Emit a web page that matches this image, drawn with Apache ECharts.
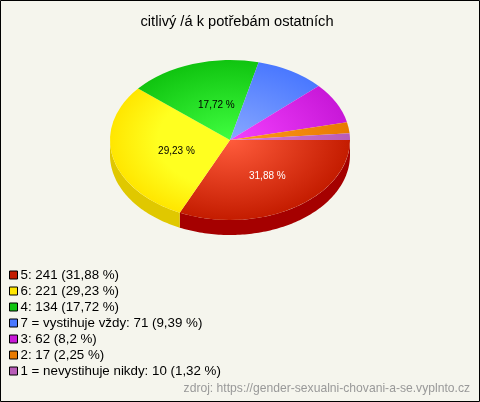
<!DOCTYPE html>
<html><head><meta charset="utf-8">
<style>html,body{margin:0;padding:0;background:#f5f5ed}#c{width:480px;height:402px}</style>
<script src="https://cdn.jsdelivr.net/npm/echarts@6/dist/echarts.min.js"></script>
</head><body><div id="c"></div>
<script>
const categories = ['5','6','4','7 = vystihuje vždy','3','2','1 = nevystihuje nikdy'];
const counts = [241,221,134,71,62,17,10];
const percents = ['31,88','29,23','17,72','9,39','8,2','2,25','1,32'];
const colors = ['#c41c00','#ffe600','#10c410','#4a78ff','#c818d8','#e87a00','#b85cb8'];
const lightColors = ['#ff5c3c','#ffff20','#40ff40','#88a8ff','#f440ff','#ff9a20','#d878d8'];
const wallColors = ['#a50000','#e0c800','#0a8a0a','#3050b0','#901090','#a05000','#804080'];
const labelColors = ['#fff','#000','#000'];

const CX=230, CY=140, RX=120, RY=80, DEPTH=15;
const total = counts.reduce((a,b)=>a+b,0);
let acc=0;
const starts = counts.map(v=>{const s=acc; acc+=v; return s;});

function renderSlice(i){
  return function(params, api){
    const v=api.value(0), s=api.value(1);
    const a0=s/total*Math.PI*2, a1=(s+v)/total*Math.PI*2;
    const children=[];
    const w0=a0, w1=Math.min(a1,Math.PI);
    if(w1>w0){
      const top=[],bot=[];
      const n=Math.max(2,Math.ceil((w1-w0)/0.02));
      for(let k=0;k<=n;k++){
        const t=w0+(w1-w0)*k/n;
        const x=CX+RX*Math.cos(t), y=CY+RY*Math.sin(t);
        top.push([x,y]); bot.unshift([x,y+DEPTH]);
      }
      children.push({type:'polygon',shape:{points:top.concat(bot)},style:{fill:wallColors[i]},silent:true});
    }
    const stops=i===1
      ?[{offset:0,color:lightColors[i]},{offset:0.6,color:lightColors[i]},{offset:1,color:colors[i]}]
      :[{offset:0,color:lightColors[i]},{offset:1,color:colors[i]}];
    children.push({type:'sector',x:CX,y:CY,scaleY:RY/RX,silent:true,
      shape:{cx:0,cy:0,r:RX,r0:0,startAngle:a0,endAngle:a1,clockwise:true},
      style:{fill:new echarts.graphic.RadialGradient(0,0,RX,stops,true)}});
    if(v/total>0.1){
      const m=(a0+a1)/2;
      children.push({type:'text',silent:true,
        x:CX+RX*0.5*Math.cos(m)+5,y:CY+RY*0.5*Math.sin(m)+3,
        style:{text:percents[i]+' %',fill:labelColors[i],font:'10px "Liberation Sans"',align:'center',verticalAlign:'middle'}});
    }
    return {type:'group',children};
  };
}

const series=categories.map((c,i)=>({
  type:'custom',
  name:c+': '+counts[i]+' ('+percents[i]+' %)',
  coordinateSystem:'none',
  itemStyle:{color:colors[i]},
  data:[[counts[i],starts[i]]],
  renderItem:renderSlice(i)
}));

const chart=echarts.init(document.getElementById('c'),null,{renderer:'canvas'});
chart.setOption({
  animation:false,
  backgroundColor:'#f5f5ed',
  title:{text:'citlivý /á k potřebám ostatních',left:232,top:9,textAlign:'center',
    textStyle:{color:'#000',fontSize:14.67,fontWeight:'normal',fontFamily:'"Liberation Sans"'}},
  legend:{orient:'vertical',left:9,top:267,itemWidth:8,itemHeight:8,itemGap:0,icon:'rect',
    selectedMode:false,padding:0,
    itemStyle:{borderColor:'#000',borderWidth:1},
    textStyle:{color:'#000',fontSize:13.33,lineHeight:16,height:16,padding:[0,0,0,-2],fontFamily:'"Liberation Sans"'},
    data:series.map(s=>s.name)},
  graphic:[
    {type:'text',right:10,top:383,style:{text:'zdroj: https://gender-sexualni-chovani-a-se.vyplnto.cz',fill:'#999',font:'12.13px "Liberation Sans"'}},
    {type:'rect',shape:{x:0.5,y:0.5,width:479,height:401},style:{fill:'none',stroke:'#000',lineWidth:1},silent:true}
  ],
  series
});
</script></body></html>
